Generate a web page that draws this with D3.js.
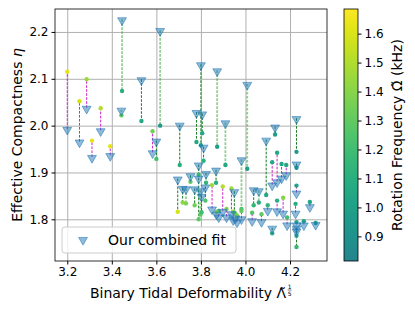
<!DOCTYPE html>
<html>
<head>
<meta charset="utf-8">
<script src="https://cdn.jsdelivr.net/npm/d3@7.9.0/dist/d3.min.js"></script>
<style>
  body { margin: 0; background: #fff; }
  text { font-family: "DejaVu Sans", sans-serif; }
</style>
</head>
<body>
<svg id="chart" width="415" height="311"></svg>
<script>
// binary tidal deformability (x), fitted eta (triangles), measured eta (dots), rotation freq (kHz)
const lambda = [3.200, 3.255, 3.287, 3.311, 3.350, 3.393, 3.446, 3.443, 3.533, 3.617,
  3.583, 3.600, 3.705, 3.696, 3.718, 3.733, 3.753, 3.772, 3.780, 3.800,
  3.806, 3.812, 3.790, 3.790, 3.798, 3.803, 3.823, 3.868, 3.873, 3.910,
  3.850, 3.898, 3.937, 3.915, 3.945, 3.962, 3.950, 3.982, 4.008, 3.982,
  4.030, 4.072, 4.037, 4.060, 4.093, 4.120, 4.142, 4.162, 4.183, 4.133,
  4.229, 4.229, 4.229, 4.169, 4.289, 4.187, 4.229, 4.229, 4.229, 4.262,
  4.315, 4.225, 4.142, 4.120, 3.955, 3.870, 3.880, 4.100, 3.820];
const fitEta = [1.993, 1.966, 2.038, 1.933, 1.990, 1.937, 2.227, 2.034, 2.099, 2.204,
  1.943, 1.968, 2.002, 1.887, 1.867, 1.866, 1.894, 1.866, 2.029, 2.131,
  2.026, 1.955, 1.917, 1.889, 1.862, 1.850, 1.899, 1.906, 2.118, 2.007,
  1.823, 1.818, 1.813, 1.806, 1.800, 1.795, 1.860, 1.928, 2.089, 1.802,
  1.798, 1.796, 1.864, 1.862, 1.970, 1.874, 1.881, 1.889, 1.896, 1.998,
  2.016, 1.919, 1.857, 1.814, 1.828, 1.789, 1.789, 1.782, 1.776, 1.789,
  1.790, 1.814, 1.819, 1.782, 1.804, 1.812, 1.806, 1.820, 1.870];
const dataEta = [2.115, 2.052, 2.099, 1.968, 2.037, 1.956, 2.074, 2.022, 2.010, 2.000,
  1.988, 1.929, 1.916, 1.816, 1.836, 1.834, 1.880, 1.830, 1.965, 1.958,
  1.984, 1.925, 1.895, 1.800, 1.810, 1.815, 1.878, 1.878, 1.955, 1.916,
  1.873, 1.870, 1.866, 1.822, 1.816, 1.808, 1.814, 1.822, 1.908, 1.818,
  1.814, 1.811, 1.830, 1.836, 1.852, 1.922, 1.942, 1.918, 1.916, 1.981,
  1.944, 1.910, 1.872, 1.846, 1.837, 1.804, 1.794, 1.741, 1.765, 1.796,
  1.792, 1.833, 1.840, 1.770, 1.812, 1.816, 1.818, 1.830, 1.840];
const omega = [1.62, 1.58, 1.45, 1.62, 1.50, 1.62, 1.10, 1.30, 1.05, 0.95,
  1.35, 1.22, 1.10, 1.58, 1.42, 1.38, 1.30, 1.35, 1.05, 1.00,
  1.05, 1.12, 1.15, 1.28, 1.30, 1.20, 1.15, 1.10, 1.00, 1.05,
  1.45, 1.50, 1.45, 1.40, 1.45, 1.40, 1.20, 1.25, 1.00, 1.30,
  1.25, 1.30, 1.15, 1.10, 1.05, 1.05, 1.05, 1.05, 1.05, 0.98,
  0.95, 1.00, 1.02, 1.40, 1.05, 1.20, 1.00, 1.15, 1.05, 1.02,
  1.00, 1.10, 1.10, 1.08, 1.35, 1.35, 1.30, 1.15, 1.25];
// simulation set of each pair: 'a' or 'b'
const simSet = ['a', 'a', 'a', 'a', 'a', 'a', 'b', 'b', 'a', 'b',
  'a', 'a', 'a', 'a', 'a', 'b', 'a', 'a', 'a', 'a',
  'a', 'a', 'a', 'a', 'b', 'a', 'a', 'a', 'b', 'b',
  'a', 'a', 'a', 'a', 'a', 'a', 'a', 'b', 'b', 'a',
  'a', 'a', 'a', 'b', 'a', 'a', 'a', 'a', 'a', 'a',
  'a', 'a', 'a', 'a', 'a', 'a', 'a', 'a', 'a', 'a',
  'a', 'a', 'a', 'a', 'a', 'a', 'a', 'a', 'a'];

const xTicks = [3.2, 3.4, 3.6, 3.8, 4.0, 4.2];
const yTicks = [1.8, 1.9, 2.0, 2.1, 2.2];
const cTicks = [0.9, 1.0, 1.1, 1.2, 1.3, 1.4, 1.5, 1.6];

const points = lambda.map((l, i) => ({
  lam: l, fit: fitEta[i], eta: dataEta[i], om: omega[i], set: simSet[i]
}));

const plot = { left: 55, right: 327, top: 9, bottom: 261 };

const x = d3.scaleLinear().domain([3.145, 4.366]).range([plot.left, plot.right]);
const y = d3.scaleLinear().domain([1.711, 2.249]).range([plot.bottom, plot.top]);
const cScale = d3.scaleLinear().domain([0.815, 1.685]).range([plot.bottom, plot.top]);
const color = om => d3.interpolateViridis(0.45 + 0.55 * (om - 0.815) / 0.87);

const svg = d3.select('#chart');

// grid
svg.append('g')
  .attr('transform', `translate(0,${plot.bottom})`)
  .call(d3.axisBottom(x).tickValues(xTicks).tickFormat('').tickSize(-(plot.bottom - plot.top)))
  .call(g => g.select('.domain').remove())
  .call(g => g.selectAll('line').attr('stroke', '#b0b0b0').attr('stroke-width', 1));
svg.append('g')
  .attr('transform', `translate(${plot.left},0)`)
  .call(d3.axisLeft(y).tickValues(yTicks).tickFormat('').tickSize(-(plot.right - plot.left)))
  .call(g => g.select('.domain').remove())
  .call(g => g.selectAll('line').attr('stroke', '#b0b0b0').attr('stroke-width', 1));

// dashed connectors
svg.append('g').selectAll('line')
  .data(points)
  .join('line')
  .attr('x1', d => x(d.lam)).attr('x2', d => x(d.lam))
  .attr('y1', d => y(d.fit)).attr('y2', d => y(d.eta))
  .attr('stroke', d => d.eta > d.fit ? '#cc22cc' : (d.set === 'b' ? '#3aaa3a' : '#117a1a'))
  .attr('stroke-opacity', d => d.eta <= d.fit && d.set === 'b' ? 0.55 : 1)
  .attr('stroke-width', d => d.eta <= d.fit && d.set === 'b' ? 1.8 : 1)
  .attr('stroke-dasharray', '2.6,1.4');

// data dots
svg.append('g').selectAll('circle')
  .data(points)
  .join('circle')
  .attr('cx', d => x(d.lam))
  .attr('cy', d => y(d.eta))
  .attr('r', 2.2)
  .attr('fill', d => color(d.om));

// fit triangles
const tri = d3.symbol(d3.symbolTriangle, 34);
svg.append('g').selectAll('path')
  .data(points)
  .join('path')
  .attr('d', tri)
  .attr('transform', d => `translate(${x(d.lam)},${y(d.fit) + 1}) rotate(180)`)
  .attr('fill', '#1f77b4').attr('fill-opacity', 0.5)
  .attr('stroke', '#1f77b4').attr('stroke-opacity', 0.55).attr('stroke-width', 1);

// frame
svg.append('rect')
  .attr('x', plot.left).attr('y', plot.top)
  .attr('width', plot.right - plot.left).attr('height', plot.bottom - plot.top)
  .attr('fill', 'none').attr('stroke', '#000').attr('stroke-width', 0.8);

// axes
svg.append('g')
  .attr('transform', `translate(0,${plot.bottom})`)
  .call(d3.axisBottom(x).tickValues(xTicks).tickFormat(d3.format('.1f')).tickSize(3.5).tickPadding(3))
  .call(g => g.select('.domain').remove())
  .call(g => g.selectAll('text').attr('font-size', 12).attr('fill', '#000'));
svg.append('g')
  .attr('transform', `translate(${plot.left},0)`)
  .call(d3.axisLeft(y).tickValues(yTicks).tickFormat(d3.format('.1f')).tickSize(3.5).tickPadding(3))
  .call(g => g.select('.domain').remove())
  .call(g => g.selectAll('text').attr('font-size', 12).attr('fill', '#000'));

// y label
const yl = svg.append('text')
  .attr('transform', `translate(22,135) rotate(-90)`)
  .attr('text-anchor', 'middle')
  .attr('font-size', 14);
yl.append('tspan').text('Effective Compactness ');
yl.append('tspan').attr('font-style', 'italic').text('η');

// x label with stacked 1/5 exponent
const xl = svg.append('g');
const xlText = xl.append('text')
  .attr('x', 0).attr('y', 298)
  .attr('font-size', 14)
  .text('Binary Tidal Deformability Λ̃');
const w = xlText.node().getComputedTextLength();
xl.append('text').attr('x', w + 3.5).attr('y', 289).attr('font-size', 6).attr('text-anchor', 'middle').text('1');
xl.append('line').attr('x1', w + 1.5).attr('x2', w + 5.5).attr('y1', 290).attr('y2', 290)
  .attr('stroke', '#000').attr('stroke-width', 0.5);
xl.append('text').attr('x', w + 3.5).attr('y', 295.5).attr('font-size', 6).attr('text-anchor', 'middle').text('5');
xl.attr('transform', `translate(${(plot.left + plot.right) / 2 - (w + 6) / 2},0)`);

// legend
const lg = svg.append('g');
lg.append('rect')
  .attr('x', 62).attr('y', 227).attr('width', 174).attr('height', 26).attr('rx', 3)
  .attr('fill', '#fff').attr('fill-opacity', 0.8)
  .attr('stroke', '#cccccc').attr('stroke-width', 1);
lg.append('path')
  .attr('d', tri)
  .attr('transform', 'translate(83,240) rotate(180)')
  .attr('fill', '#1f77b4').attr('fill-opacity', 0.5)
  .attr('stroke', '#1f77b4').attr('stroke-opacity', 0.55);
lg.append('text')
  .attr('x', 108).attr('y', 245)
  .attr('font-size', 14)
  .text('Our combined fit');

// colorbar
const cb = { x: 344, w: 14 };
const defs = svg.append('defs');
const grad = defs.append('linearGradient')
  .attr('id', 'cbar').attr('x1', 0).attr('y1', 1).attr('x2', 0).attr('y2', 0);
d3.range(0, 1.0001, 0.05).forEach(t => {
  grad.append('stop').attr('offset', t).attr('stop-color', d3.interpolateViridis(0.45 + 0.55 * t));
});
svg.append('rect')
  .attr('x', cb.x).attr('y', plot.top)
  .attr('width', cb.w).attr('height', plot.bottom - plot.top)
  .attr('fill', 'url(#cbar)')
  .attr('stroke', '#000').attr('stroke-width', 0.8);
svg.append('g')
  .attr('transform', `translate(${cb.x + cb.w},0)`)
  .call(d3.axisRight(cScale).tickValues(cTicks).tickFormat(d3.format('.1f')).tickSize(3.5).tickPadding(3))
  .call(g => g.select('.domain').remove())
  .call(g => g.selectAll('text').attr('font-size', 12).attr('fill', '#000'));
svg.append('text')
  .attr('transform', `translate(402,135) rotate(-90)`)
  .attr('text-anchor', 'middle')
  .attr('font-size', 14)
  .text('Rotation Frequency Ω̃ (kHz)');
</script>
</body>
</html>
